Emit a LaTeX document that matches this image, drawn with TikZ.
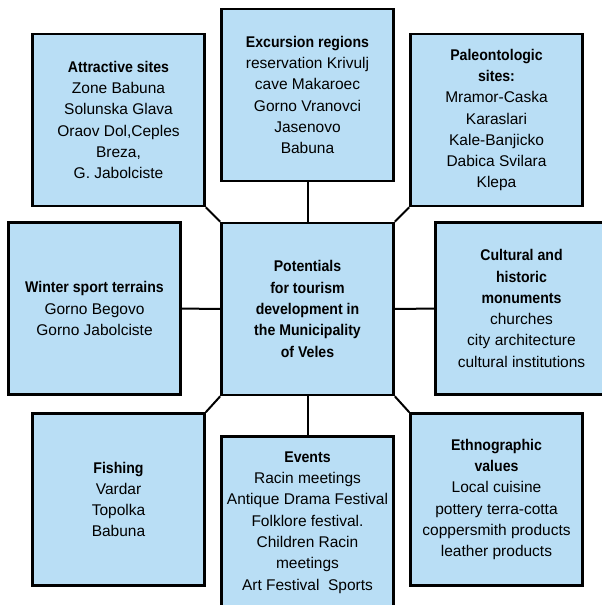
\documentclass[tikz,border=0pt]{standalone}
\usepackage{fontspec}
\setmainfont{Liberation Sans}[BoldFeatures={FakeStretch=0.91}]
\definecolor{boxblue}{RGB}{185,222,245}
\begin{document}
\begin{tikzpicture}[x=1pt,y=-1pt,
        box/.style={shape=rectangle,draw=black,line width=2.6pt,fill=boxblue,minimum width=172pt,minimum height=172pt,inner sep=2pt,align=center,font=\fontsize{15.5}{21.3}\selectfont},
        link/.style={line width=2pt}]
            \useasboundingbox (0,0) rectangle (602,605);

            \node[box,font=\fontsize{15.5}{21.3}\selectfont\bfseries] (0) at (307.5,309) {Potentials\\for tourism\\development in\\the Municipality\\of Veles};
            \node[box] (1) at (118.5,120) {\textbf{Attractive sites}\\Zone Babuna\\Solunska Glava\\Oraov Dol,Ceples\\Breza,\\G. Jabolciste};
            \node[box] (2) at (307.5,95) {\textbf{Excursion regions}\\reservation Krivulj\\cave Makaroec\\Gorno Vranovci\\Jasenovo\\Babuna};
            \node[box] (3) at (496.5,120) {\textbf{Paleontologic}\\\textbf{sites:}\\Mramor-Caska\\Karaslari\\Kale-Banjicko\\Dabica Svilara\\Klepa};
            \node[box] (4) at (94.5,308.5) {\textbf{Winter sport terrains}\\Gorno Begovo\\Gorno Jabolciste};
            \node[box] (5) at (521.5,308.5) {\textbf{Cultural and}\\\textbf{historic}\\\textbf{monuments}\\churches\\city architecture\\cultural institutions};
            \node[box] (6) at (118.5,499.5) {\textbf{Fishing}\\Vardar\\Topolka\\Babuna};
            \node[box] (7) at (307.5,522.5) {\textbf{Events}\\Racin meetings\\Antique Drama Festival\\Folklore festival.\\Children Racin\\meetings\\Art Festival~ Sports};
            \node[box] (8) at (496.5,499.5) {\textbf{Ethnographic}\\\textbf{values}\\Local cuisine\\pottery terra-cotta\\coppersmith products\\leather products};

            %Links

            \draw[link] (1.south east) edge (0.north west);
            \draw[link] (2) edge (0);
            \draw[link] (3.south west) edge (0.north east);
            \draw[link] (4) edge (0);
            \draw[link] (5) edge (0);
            \draw[link] (6.north east) edge (0.south west);
            \draw[link] (7) edge (0);
            \draw[link] (8.north west) edge (0.south east);
        \end{tikzpicture}
\end{document}
